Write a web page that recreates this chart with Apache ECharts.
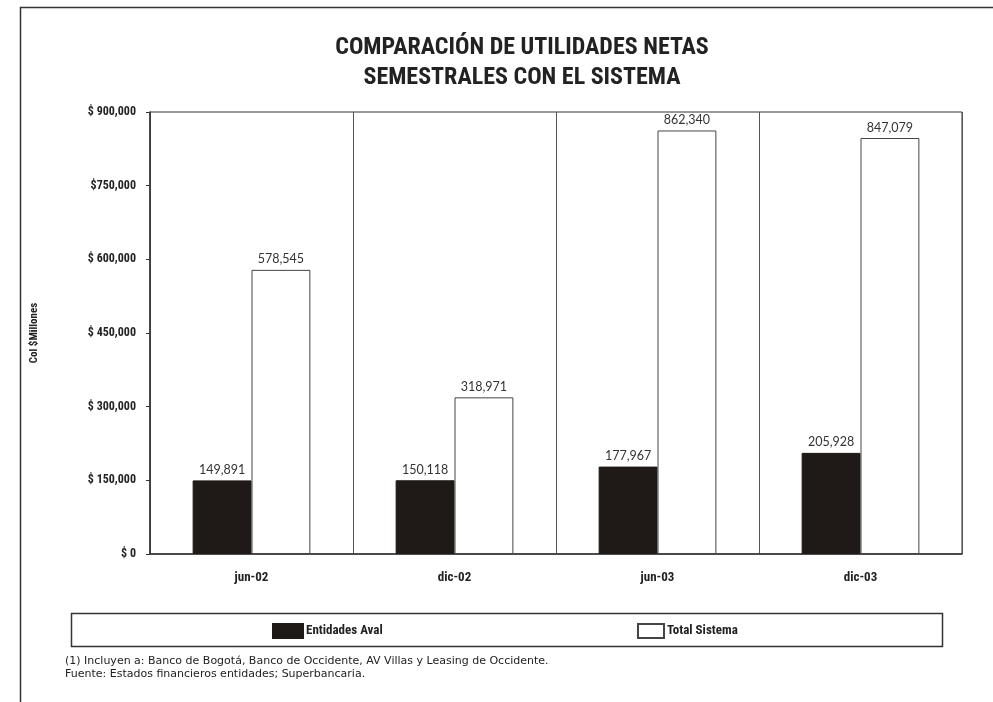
<!DOCTYPE html>
<html><head><meta charset="utf-8">
<script src="https://cdn.jsdelivr.net/npm/echarts@6/dist/echarts.min.js"></script>
<style>html,body{margin:0;padding:0;background:#fff;}#c{width:993px;height:702px;}</style>
</head><body><div id="c"></div>
<script>
var categories = ['jun-02', 'dic-02', 'jun-03', 'dic-03'];
var entidadesAval = [149891, 150118, 177967, 205928];
var totalSistema = [578545, 318971, 862340, 847079];
var yTickLabels = ['$ 0', '$ 150,000', '$ 300,000', '$ 450,000', '$ 600,000', '$750,000', '$ 900,000'];
var seriesNames = ['Entidades Aval', 'Total Sistema'];
var titleLines = ['COMPARACIÓN DE UTILIDADES NETAS', 'SEMESTRALES CON EL SISTEMA'];
var yAxisName = 'Col $Millones';
var footnotes = ['(1) Incluyen a: Banco de Bogotá, Banco de Occidente, AV Villas y Leasing de Occidente.', 'Fuente: Estados financieros entidades; Superbancaria.'];

var narrow = '"Liberation Sans Narrow", "Roboto Condensed", "Arial Narrow", Roboto, sans-serif';
var valueFont = 'Lato, "DejaVu Sans", sans-serif';

function fmt(v){ return v.toLocaleString('en-US'); }

var chart = echarts.init(document.getElementById('c'));
chart.setOption({
  animation: false,
  backgroundColor: '#fff',
  title: {
    text: titleLines.join('\n'),
    left: 517, top: 28, textAlign: 'center',
    textStyle: { fontFamily: narrow, fontWeight: 'bold', fontSize: 24, lineHeight: 30, color: '#222' }
  },
  grid: { left: 150, right: 31, top: 112, bottom: 148, show: true, borderColor: '#333', borderWidth: 1, backgroundColor: 'transparent' },
  legend: [
    { data: [seriesNames[0]], left: 267, top: 618, itemWidth: 30, itemHeight: 14, icon: 'rect',
      textStyle: { fontFamily: narrow, fontWeight: 'bold', fontSize: 13, color: '#222', padding: [0,0,0,-2] } },
    { data: [seriesNames[1]], left: 632, top: 618, itemWidth: 26, itemHeight: 14, icon: 'rect',
      textStyle: { fontFamily: narrow, fontWeight: 'bold', fontSize: 13, color: '#222', padding: [0,0,0,-2] } }
  ],
  xAxis: {
    type: 'category', data: categories,
    axisLine: { lineStyle: { color: '#333', width: 1.5 } },
    axisTick: { show: false },
    splitLine: { show: true, lineStyle: { color: '#555', width: 1 } },
    axisLabel: { margin: 17, fontFamily: narrow, fontWeight: 'bold', fontSize: 13, color: '#222' }
  },
  yAxis: {
    type: 'value', min: 0, max: 900000, interval: 150000,
    name: yAxisName, nameLocation: 'middle', nameGap: 110, nameRotate: 90,
    nameTextStyle: { fontFamily: narrow, fontWeight: 'bold', fontSize: 11, color: '#222' },
    axisLine: { show: true, lineStyle: { color: '#333', width: 1.5 } },
    axisTick: { show: true, length: 4, lineStyle: { color: '#333' } },
    splitLine: { show: false },
    axisLabel: {
      margin: 14, fontFamily: narrow, fontWeight: 'bold', fontSize: 12, color: '#222',
      formatter: function (v) { return yTickLabels[Math.round(v / 150000)]; }
    }
  },
  series: [
    { name: seriesNames[0], type: 'bar', data: entidadesAval, barGap: '0%', barCategoryGap: '42%',
      itemStyle: { color: '#1f1a17', borderColor: '#1f1a17', borderWidth: 1 },
      label: { show: true, position: 'top', distance: 4, fontFamily: valueFont, fontSize: 12.5, color: '#333', formatter: function(p){ return fmt(p.value); } } },
    { name: seriesNames[1], type: 'bar', data: totalSistema,
      itemStyle: { color: '#fff', borderColor: '#444', borderWidth: 1 },
      label: { show: true, position: 'top', distance: 4, fontFamily: valueFont, fontSize: 12.5, color: '#333', formatter: function(p){ return fmt(p.value); } } }
  ],
  graphic: [
    { type: 'rect', shape: { x: 20.5, y: 7.5, width: 990, height: 710 }, style: { fill: 'none', stroke: '#333', lineWidth: 1.5 }, silent: true },
    { type: 'rect', shape: { x: 71.5, y: 613.5, width: 871, height: 33 }, style: { fill: 'none', stroke: '#333', lineWidth: 1.5 }, silent: true },
    { type: 'text', left: 65, top: 655, style: { text: footnotes.join('\n'), fontFamily: '"DejaVu Sans", sans-serif', fontSize: 11, lineHeight: 13, fill: '#222' }, silent: true }
  ]
});
</script></body></html>
